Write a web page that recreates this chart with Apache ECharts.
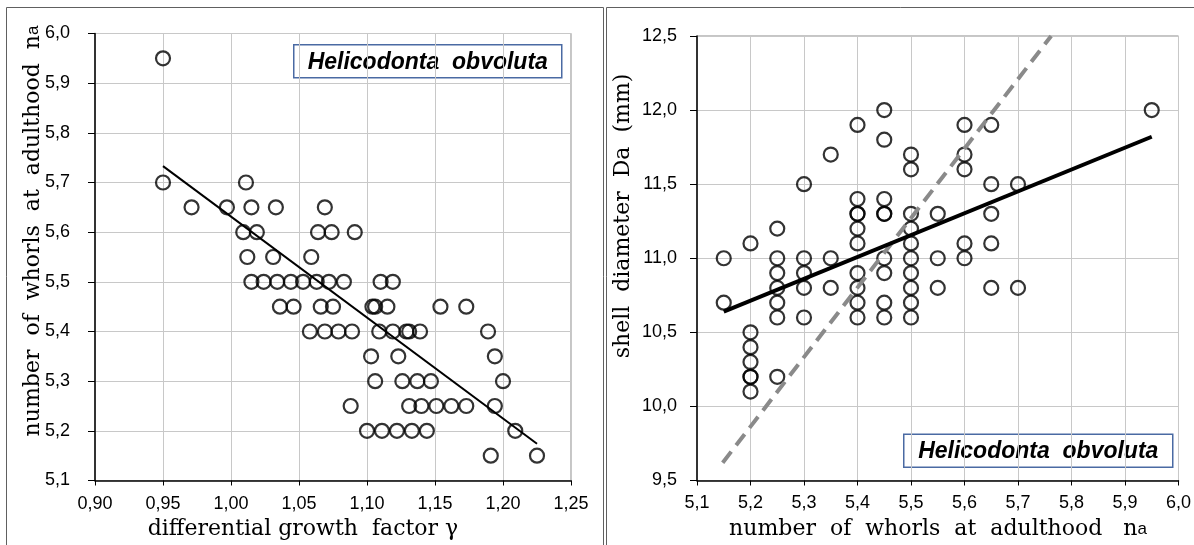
<!DOCTYPE html>
<html>
<head>
<meta charset="utf-8">
<script src="https://cdn.jsdelivr.net/npm/echarts@6/dist/echarts.min.js"></script>
<style>
html,body{margin:0;padding:0;background:#fff;}
#chart{width:1194px;height:545px;}
</style>
</head>
<body>
<div id="chart"></div>
<script>
// ---- Left panel: differential growth factor vs number of whorls ----
const leftXTicks = [0.90, 0.95, 1.00, 1.05, 1.10, 1.15, 1.20, 1.25];
const leftYTicks = [5.1, 5.2, 5.3, 5.4, 5.5, 5.6, 5.7, 5.8, 5.9, 6.0];
const leftGamma = [
  0.950,
  0.950, 1.011,
  0.971, 0.997, 1.015, 1.033, 1.069,
  1.009, 1.019, 1.064, 1.074, 1.091,
  1.012, 1.031, 1.059,
  1.015, 1.024, 1.034, 1.044, 1.053, 1.063, 1.072, 1.083, 1.110, 1.119,
  1.036, 1.046, 1.066, 1.075, 1.104, 1.106, 1.115, 1.154, 1.173,
  1.058, 1.069, 1.079, 1.089, 1.109, 1.119, 1.129, 1.131, 1.139, 1.189,
  1.103, 1.123, 1.194,
  1.106, 1.126, 1.137, 1.147, 1.200,
  1.088, 1.131, 1.140, 1.151, 1.162, 1.173, 1.194,
  1.100, 1.111, 1.122, 1.133, 1.144, 1.209,
  1.191, 1.225
];
const leftWhorls = [
  5.95,
  5.70, 5.70,
  5.65, 5.65, 5.65, 5.65, 5.65,
  5.60, 5.60, 5.60, 5.60, 5.60,
  5.55, 5.55, 5.55,
  5.50, 5.50, 5.50, 5.50, 5.50, 5.50, 5.50, 5.50, 5.50, 5.50,
  5.45, 5.45, 5.45, 5.45, 5.45, 5.45, 5.45, 5.45, 5.45,
  5.40, 5.40, 5.40, 5.40, 5.40, 5.40, 5.40, 5.40, 5.40, 5.40,
  5.35, 5.35, 5.35,
  5.30, 5.30, 5.30, 5.30, 5.30,
  5.25, 5.25, 5.25, 5.25, 5.25, 5.25, 5.25,
  5.20, 5.20, 5.20, 5.20, 5.20, 5.20,
  5.15, 5.15
];
const leftFitX = [0.95, 1.225];
const leftFitY = [5.733, 5.174];

// ---- Right panel: number of whorls vs shell diameter ----
const rightXTicks = [5.1, 5.2, 5.3, 5.4, 5.5, 5.6, 5.7, 5.8, 5.9, 6.0];
const rightYTicks = [9.5, 10.0, 10.5, 11.0, 11.5, 12.0, 12.5];
const rightWhorls = [
  5.15, 5.15,
  5.20, 5.20, 5.20, 5.20, 5.20, 5.20, 5.20,
  5.25, 5.25, 5.25, 5.25, 5.25, 5.25, 5.25,
  5.30, 5.30, 5.30, 5.30, 5.30,
  5.35, 5.35, 5.35,
  5.40, 5.40, 5.40, 5.40, 5.40, 5.40, 5.40, 5.40, 5.40, 5.40,
  5.45, 5.45, 5.45, 5.45, 5.45, 5.45, 5.45, 5.45, 5.45,
  5.50, 5.50, 5.50, 5.50, 5.50, 5.50, 5.50, 5.50, 5.50, 5.50,
  5.55, 5.55, 5.55,
  5.60, 5.60, 5.60, 5.60, 5.60,
  5.65, 5.65, 5.65, 5.65, 5.65,
  5.70, 5.70,
  5.95
];
const rightDiameter = [
  11.0, 10.7,
  11.1, 10.5, 10.4, 10.3, 10.2, 10.2, 10.1,
  11.2, 11.0, 10.9, 10.8, 10.7, 10.6, 10.2,
  11.5, 11.0, 10.9, 10.8, 10.6,
  11.7, 11.0, 10.8,
  11.9, 11.4, 11.3, 11.3, 11.2, 11.1, 10.9, 10.8, 10.7, 10.6,
  12.0, 11.8, 11.4, 11.3, 11.3, 11.0, 10.9, 10.7, 10.6,
  11.7, 11.6, 11.3, 11.2, 11.1, 11.0, 10.9, 10.8, 10.7, 10.6,
  11.3, 11.0, 10.8,
  11.9, 11.7, 11.6, 11.1, 11.0,
  11.9, 11.5, 11.3, 11.1, 10.8,
  11.5, 10.8,
  12.0
];
const rightFitX = [5.15, 5.95];
const rightFitY = [10.64, 11.82];
const rightRefX = [5.148, 5.762];
const rightRefY = [9.62, 12.5];

const speciesName = 'Helicodonta  obvoluta';

const zip = (a, b) => a.map((v, i) => [v, b[i]]);
const comma = d => v => v.toFixed(d).replace('.', ',');

const SANS = '"Liberation Sans", Arial, sans-serif';
const SERIF = '"DejaVu Serif", serif';

function mkX(grid, ticks, dec, margin) {
  return {
    type: 'value', gridIndex: grid,
    min: ticks[0], max: ticks[ticks.length - 1], interval: +(ticks[1] - ticks[0]).toFixed(4),
    axisLine: { show: true, onZero: false, lineStyle: { color: '#000', width: 1.5 } },
    axisTick: { show: true, length: 5, lineStyle: { color: '#000', width: 1 } },
    splitLine: { show: true, lineStyle: { color: '#c8c8c8', width: 1 } },
    axisLabel: { formatter: comma(dec), fontFamily: SANS, fontSize: 18, color: '#000', margin: margin }
  };
}
function mkY(grid, ticks, dec, margin) {
  const o = mkX(grid, ticks, dec, margin);
  o.axisTick.length = 7;
  return o;
}

const scatterStyle = {
  type: 'scatter', symbol: 'circle', symbolSize: 14, silent: true,
  itemStyle: { color: 'rgba(0,0,0,0)', borderColor: '#000', borderWidth: 2.2 },
  z: 3
};

const chart = echarts.init(document.getElementById('chart'), null, { renderer: 'canvas' });

function legendBox(x, y, w, h) {
  return {
    type: 'group', left: x, top: y, z: 100,
    children: [
      { type: 'rect', shape: { x: 0, y: 0, width: w, height: h },
        style: { fill: '#fff', stroke: '#4a6aa3', lineWidth: 1.5 } },
      { type: 'text', x: w / 2, y: h / 2 + 1,
        style: { text: speciesName, fill: '#000', align: 'center', verticalAlign: 'middle',
                 font: 'italic bold 23px ' + SANS } }
    ]
  };
}

chart.setOption({
  animation: false,
  backgroundColor: '#fff',
  grid: [
    { left: 95, top: 33.5, width: 476, height: 447, show: true, borderColor: '#8c8c8c', borderWidth: 1, backgroundColor: 'transparent' },
    { left: 697, top: 36, width: 481.5, height: 444.5, show: true, borderColor: '#8c8c8c', borderWidth: 1, backgroundColor: 'transparent' }
  ],
  xAxis: [mkX(0, leftXTicks, 2, 15), mkX(1, rightXTicks, 1, 14)],
  yAxis: [mkY(0, leftYTicks, 1, 25), mkY(1, rightYTicks, 1, 20)],
  series: [
    Object.assign({}, scatterStyle, { xAxisIndex: 0, yAxisIndex: 0, data: zip(leftGamma, leftWhorls) }),
    { type: 'line', xAxisIndex: 0, yAxisIndex: 0, data: zip(leftFitX, leftFitY), showSymbol: false, silent: true,
      lineStyle: { color: '#000', width: 2 }, z: 4 },
    Object.assign({}, scatterStyle, { xAxisIndex: 1, yAxisIndex: 1, data: zip(rightWhorls, rightDiameter) }),
    { type: 'line', xAxisIndex: 1, yAxisIndex: 1, data: zip(rightRefX, rightRefY), showSymbol: false, silent: true,
      lineStyle: { color: '#8a8a8a', width: 4, type: [14, 8] }, z: 4 },
    { type: 'line', xAxisIndex: 1, yAxisIndex: 1, data: zip(rightFitX, rightFitY), showSymbol: false, silent: true,
      lineStyle: { color: '#000', width: 4 }, z: 5 }
  ],
  graphic: [
    // panel frames
    { type: 'rect', shape: { x: 6.5, y: 7.5, width: 597, height: 560 }, style: { fill: 'none', stroke: '#606060', lineWidth: 1 }, z: 0, silent: true },
    { type: 'rect', shape: { x: 606.5, y: 7.5, width: 600, height: 560 }, style: { fill: 'none', stroke: '#606060', lineWidth: 1 }, z: 0, silent: true },
    // axis titles
    { type: 'text', x: 33, y: 231, rotation: Math.PI / 2, silent: true,
      style: { text: '{s|number  of  whorls  at  adulthood  n}{a|a}', align: 'center', verticalAlign: 'middle',
               rich: { s: { font: '22px ' + SERIF, fill: '#000' }, a: { font: '17px ' + SANS, fill: '#000' } } } },
    { type: 'text', x: 303, y: 529, silent: true,
      style: { text: 'differential growth  factor γ', align: 'center', verticalAlign: 'middle', font: '22px ' + SERIF, fill: '#000' } },
    { type: 'text', x: 623, y: 216, rotation: Math.PI / 2, silent: true,
      style: { text: 'shell  diameter  Da  (mm)', align: 'center', verticalAlign: 'middle', font: '22px ' + SERIF, fill: '#000' } },
    { type: 'text', x: 938, y: 529, silent: true,
      style: { text: '{s|number  of  whorls  at  adulthood   n}{a|a}', align: 'center', verticalAlign: 'middle',
               rich: { s: { font: '22px ' + SERIF, fill: '#000' }, a: { font: '17px ' + SANS, fill: '#000' } } } },
    legendBox(293, 44, 268, 33),
    legendBox(903, 433.5, 269, 33)
  ]
});
</script>
</body>
</html>
